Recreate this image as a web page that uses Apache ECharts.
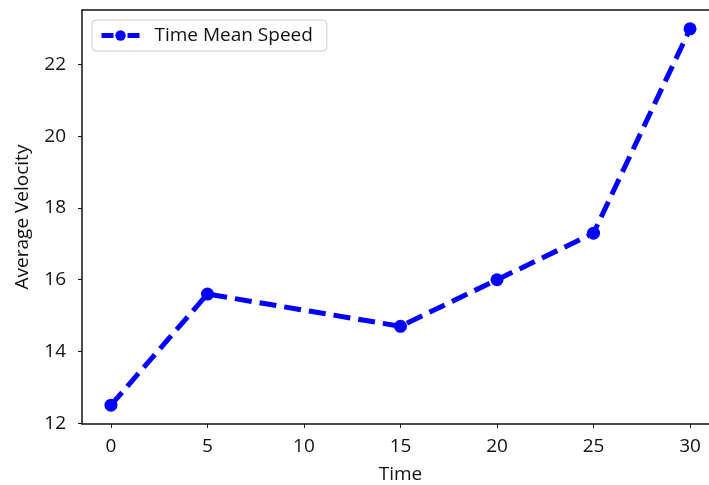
<!DOCTYPE html>
<html>
<head>
<meta charset="utf-8">
<script src="https://cdn.jsdelivr.net/npm/echarts@6/dist/echarts.min.js"></script>
<style>
  html, body { margin: 0; padding: 0; background: #fff; }
  #chart { width: 709px; height: 485px; }
</style>
</head>
<body>
<div id="chart"></div>
<script>
var times = [0, 5, 15, 20, 25, 30];
var velocities = [12.5, 15.6, 14.7, 16.0, 17.3, 23.0];
var xTicks = [0, 5, 10, 15, 20, 25, 30];
var yTicks = [12, 14, 16, 18, 20, 22];
var seriesName = 'Time Mean Speed';

var chart = echarts.init(document.getElementById('chart'));
var font = 'Open Sans, Noto Sans, sans-serif';

chart.setOption({
  animation: false,
  grid: {
    left: 82, right: -10, top: 10, bottom: 61,
    outerBoundsMode: 'none'
  },
  legend: {
    left: 92, top: 20,
    padding: [6, 14, 6, 7],
    borderColor: '#ccc', borderWidth: 1, borderRadius: 4,
    itemWidth: 38, itemHeight: 13,
    lineStyle: { width: 5, type: [12, 14] },
    textStyle: { fontFamily: font, fontSize: 19, color: '#111', padding: [0, 0, 0, 10] },
    data: [seriesName]
  },
  xAxis: [{
    type: 'value', min: -1.5, max: 31.5,
    name: 'Time', nameLocation: 'middle', nameGap: 41,
    nameTextStyle: { fontFamily: font, fontSize: 19, color: '#111' },
    axisLine: { onZero: false, lineStyle: { color: '#111', width: 1.5 } },
    axisTick: { show: true, length: 4, customValues: xTicks, lineStyle: { color: '#111' } },
    axisLabel: { customValues: xTicks, margin: 13, fontFamily: font, fontSize: 19, color: '#111' },
    splitLine: { show: false }
  }, {
    // top spine only
    type: 'value', position: 'top', min: -1.5, max: 31.5,
    axisLine: { show: true, onZero: false, lineStyle: { color: '#111', width: 1.5 } },
    axisTick: { show: false }, axisLabel: { show: false }, splitLine: { show: false }
  }],
  yAxis: {
    type: 'value', min: 11.975, max: 23.525,
    name: 'Average Velocity', nameLocation: 'middle', nameGap: 50,
    nameTextStyle: { fontFamily: font, fontSize: 19, color: '#111' },
    axisLine: { show: true, onZero: false, lineStyle: { color: '#111', width: 1.5 } },
    axisTick: { show: true, length: 4, customValues: yTicks, lineStyle: { color: '#111' } },
    axisLabel: { customValues: yTicks, margin: 16, fontFamily: font, fontSize: 19, color: '#111' },
    splitLine: { show: false }
  },
  series: [{
    name: seriesName,
    type: 'line',
    data: times.map(function (t, i) { return [t, velocities[i]]; }),
    symbol: 'circle', symbolSize: 13,
    itemStyle: { color: '#0000ff' },
    lineStyle: { color: '#0000ff', width: 5, type: [17, 8] }
  }]
});
</script>
</body>
</html>
